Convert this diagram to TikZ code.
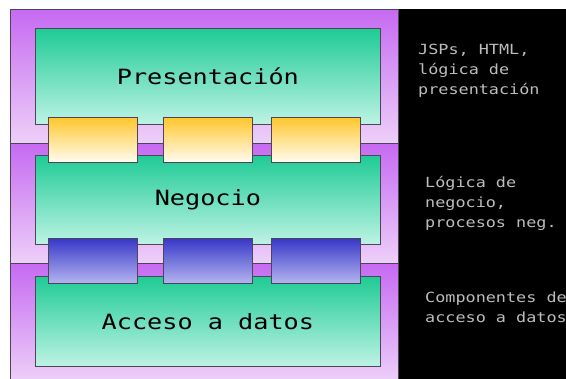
\documentclass[tikz,border=0pt]{standalone}
\usepackage{fontspec}
\usepackage{xcolor}
\newfontfamily\capafont[FakeStretch=1.2]{DejaVu Sans Mono}
\usetikzlibrary{positioning}

\definecolor{moradoA}{HTML}{C66AF2}
\definecolor{moradoB}{HTML}{EDD0F8}
\definecolor{verdeA}{HTML}{1FCB95}
\definecolor{verdeB}{HTML}{BEF3E4}
\definecolor{amarilloA}{HTML}{FFC72C}
\definecolor{amarilloB}{HTML}{FFFCF2}
\definecolor{azulA}{HTML}{3838C8}
\definecolor{azulB}{HTML}{B4B4F0}
\definecolor{borde}{HTML}{4E4458}
\definecolor{notagris}{HTML}{BDBDBD}

\begin{document}
\begin{tikzpicture}[x=1pt, y=-1pt,
    capa/.style={draw=borde, line width=0.8pt, top color=moradoA, bottom color=moradoB,
        rectangle, inner sep=0pt, anchor=north west, minimum width=388},
    modulo/.style={draw=borde, line width=0.8pt, top color=verdeA, bottom color=verdeB,
        rectangle, inner sep=0pt, anchor=north west, minimum width=345, minimum height=90,
        font=\capafont\fontsize{21}{25}\selectfont},
    enchufe/.style={draw=borde, line width=0.8pt, rectangle, inner sep=0pt,
        anchor=north west, minimum width=89, minimum height=45},
    nota/.style={anchor=north west, inner sep=0pt, align=left, text=notagris,
        font=\capafont\fontsize{14}{20}\selectfont}]
    \useasboundingbox (0,0) rectangle (566,379);
    \clip (0,0) rectangle (566,379);
    % Fondo
    \fill[white] (0,0) rectangle (566,379);
    \fill[black] (398,9) rectangle (566,379);
    % Capas
    \node[capa, minimum height=134] (capa1) at (10,9) {};
    \node[capa, minimum height=120] (capa2) at (10,143) {};
    \node[capa, minimum height=118] (capa3) at (10,263) {};
    % Modulos
    \node[modulo, minimum height=96] (pres) at (35,28) {Presentación};
    \node[modulo, minimum height=89] (nego) at (35,155) {Negocio};
    \node[modulo, minimum height=90] (datos) at (35,276) {Acceso a datos};
    % Conectores entre capas
    \foreach \x/\n in {48/a, 163/b, 271/c} {
        \node[enchufe, top color=amarilloA, bottom color=amarilloB] (am\n) at (\x,117) {};
        \node[enchufe, top color=azulA, bottom color=azulB] (az\n) at (\x,238) {};
    }
    % Notas
    \node[nota] (nota1) at (418,44) {JSPs, HTML,\\lógica de\\presentación};
    \node[nota] (nota2) at (425,176) {Lógica de\\negocio,\\procesos neg.};
    \node[nota] (nota3) at (425,292) {Componentes de\\acceso a datos};
\end{tikzpicture}
\end{document}
